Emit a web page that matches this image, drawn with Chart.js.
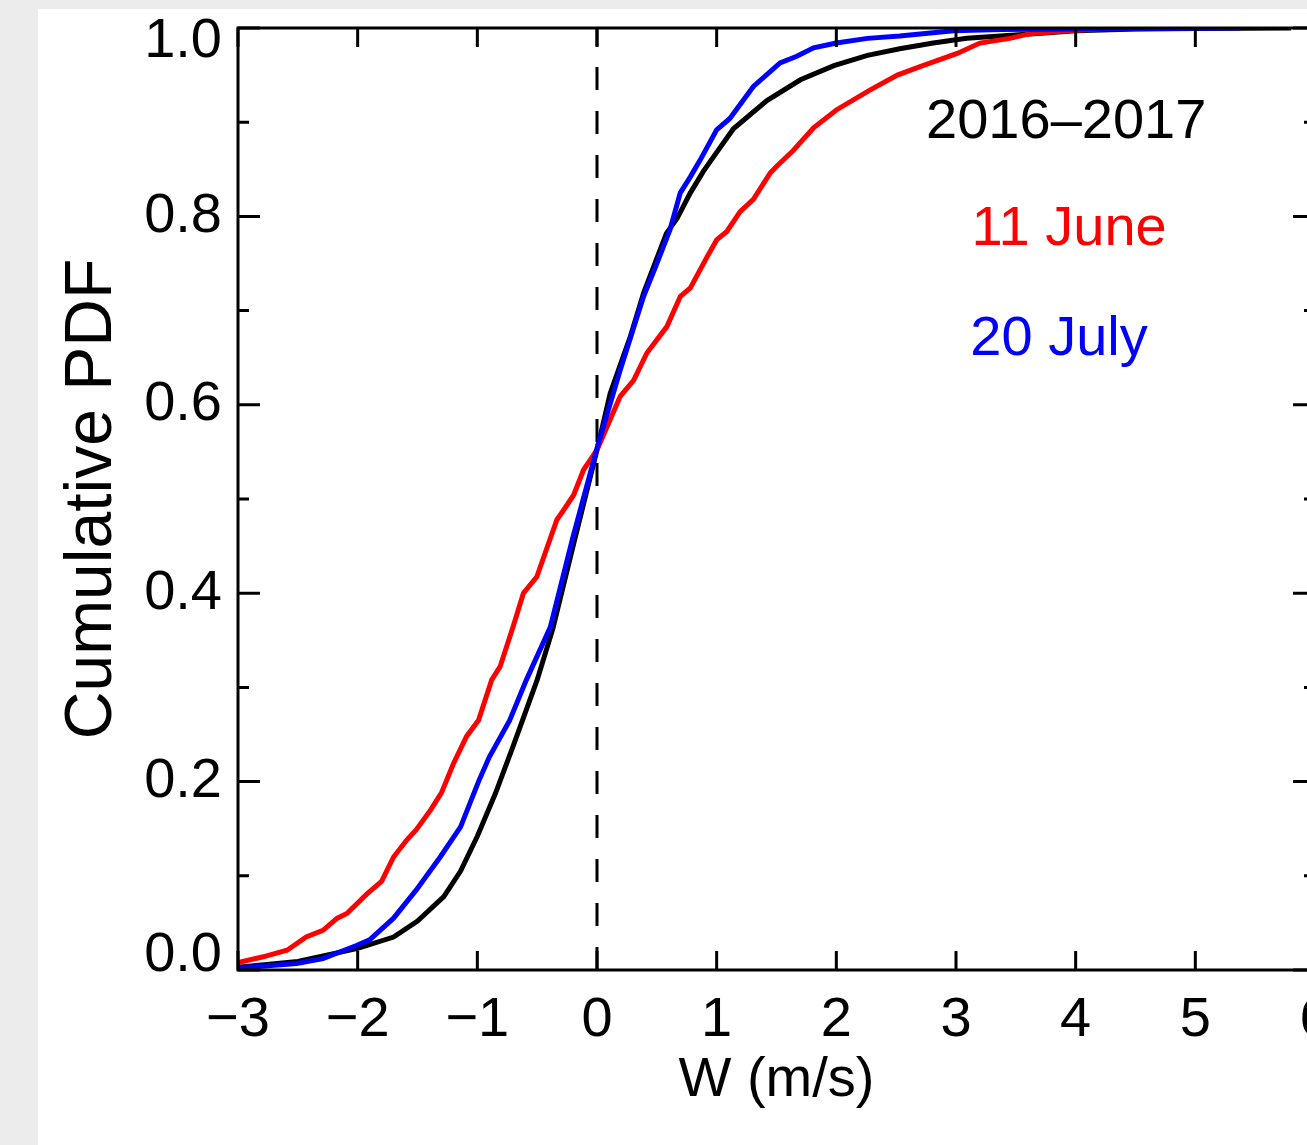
<!DOCTYPE html>
<html>
<head>
<meta charset="utf-8">
<script src="https://cdn.jsdelivr.net/npm/chart.js@4.4.0/dist/chart.umd.min.js"></script>
<style>
  html, body { margin: 0; padding: 0; width: 1307px; height: 1145px; overflow: hidden; background: #ececec; }
  #panel { position: absolute; left: 38px; top: 9px; width: 1330px; height: 1136px; background: #fff; }
  #panel canvas { position: absolute; left: 0; top: 0; }
</style>
</head>
<body>
<div id="panel"><canvas id="cdf" width="1320" height="1136"></canvas></div>
<script>
// cumulative PDF of vertical velocity W
const seriesNames = ['2016\u20132017', '11 June', '20 July'];

const xAll = [-3.0, -2.5, -2.0, -1.7, -1.5, -1.28, -1.14, -1.0, -0.85, -0.7, -0.5, -0.37, -0.2, 0.0,
  0.11, 0.28, 0.39, 0.58, 0.67, 0.78, 0.89, 1.0, 1.14, 1.42, 1.7, 1.98, 2.26, 2.53, 2.81, 3.09, 3.65,
  4.0, 4.5, 5.0, 5.8];
const yAll = [0.003, 0.009, 0.023, 0.035, 0.052, 0.078, 0.105, 0.142, 0.187, 0.238, 0.308, 0.362, 0.45, 0.552,
  0.612, 0.673, 0.719, 0.782, 0.798, 0.825, 0.848, 0.868, 0.893, 0.923, 0.945, 0.96, 0.971, 0.978, 0.984,
  0.989, 0.994, 0.997, 0.999, 0.9995, 1.0];

const xJune = [-3.0, -2.79, -2.59, -2.43, -2.29, -2.17, -2.09, -1.92, -1.8, -1.7, -1.59, -1.51, -1.39, -1.3,
  -1.2, -1.09, -0.99, -0.88, -0.81, -0.7, -0.615, -0.503, -0.335, -0.28, -0.196, -0.112, 0.0, 0.194, 0.306,
  0.417, 0.584, 0.696, 0.78, 0.92, 1.0, 1.085, 1.196, 1.307, 1.447, 1.5, 1.64, 1.81, 2.0, 2.28, 2.51, 2.7,
  3.01, 3.2, 3.45, 3.62, 3.93, 4.35];
const yJune = [0.008, 0.014, 0.021, 0.035, 0.042, 0.055, 0.06, 0.081, 0.094, 0.12, 0.138, 0.149, 0.17, 0.188,
  0.219, 0.248, 0.265, 0.308, 0.322, 0.365, 0.4, 0.4175, 0.478, 0.488, 0.504, 0.531, 0.552, 0.609, 0.626,
  0.655, 0.683, 0.715, 0.724, 0.757, 0.775, 0.784, 0.805, 0.818, 0.846, 0.853, 0.87, 0.894, 0.913, 0.934,
  0.95, 0.959, 0.973, 0.984, 0.989, 0.994, 0.997, 1.0];

const xJuly = [-3.0, -2.51, -2.29, -2.01, -1.9, -1.7, -1.51, -1.31, -1.14, -0.99, -0.9, -0.73, -0.59, -0.39,
  -0.2, 0.0, 0.194, 0.389, 0.5, 0.61, 0.696, 0.78, 0.863, 1.0, 1.11, 1.307, 1.53, 1.67, 1.81, 2.0, 2.26,
  2.53, 2.98, 3.37, 4.0, 5.38];
const yJuly = [0.002, 0.007, 0.012, 0.026, 0.032, 0.055, 0.085, 0.12, 0.152, 0.2, 0.226, 0.265, 0.308, 0.364,
  0.46, 0.554, 0.637, 0.715, 0.75, 0.786, 0.825, 0.842, 0.86, 0.892, 0.904, 0.938, 0.963, 0.97, 0.979, 0.984,
  0.989, 0.9915, 0.997, 0.9985, 0.999, 1.0];

const xTickLabels = ['\u22123', '\u22122', '\u22121', '0', '1', '2', '3', '4', '5', '6'];
const yTickLabels = ['0.0', '0.2', '0.4', '0.6', '0.8', '1.0'];

const FONT = '"Liberation Sans", Arial, Helvetica, sans-serif';

function pts(xs, ys) {
  return xs.map((v, i) => ({x: v, y: ys[i]}));
}

// IDL-style box: inward ticks on all four sides, dashed zero line, text legend
const idlBox = {
  id: 'idlBox',
  beforeDatasetsDraw(chart) {
    const {ctx, chartArea: a, scales: {x}} = chart;
    const x0 = x.getPixelForValue(0);
    ctx.save();
    ctx.strokeStyle = '#000';
    ctx.lineWidth = 3;
    ctx.setLineDash([23, 21]);
    ctx.beginPath();
    ctx.moveTo(x0, a.bottom);
    ctx.lineTo(x0, a.top);
    ctx.stroke();
    ctx.restore();
  },
  afterDatasetsDraw(chart) {
    const {ctx, chartArea: a, scales: {x, y}} = chart;
    ctx.save();
    ctx.strokeStyle = '#000';
    ctx.lineWidth = 3;
    ctx.strokeRect(a.left, a.top, a.right - a.left, a.bottom - a.top);
    ctx.beginPath();
    x.ticks.forEach(t => {
      const px = x.getPixelForValue(t.value);
      ctx.moveTo(px, a.bottom); ctx.lineTo(px, a.bottom - 19);
      ctx.moveTo(px, a.top); ctx.lineTo(px, a.top + 19);
    });
    for (let i = 0; i <= 10; i++) {
      const py = y.getPixelForValue(i / 10);
      const len = i % 2 === 0 ? 22 : 11;
      ctx.moveTo(a.left, py); ctx.lineTo(a.left + len, py);
      ctx.moveTo(a.right, py); ctx.lineTo(a.right - len, py);
    }
    ctx.stroke();

    // labels anchored in data coordinates (left edge, baseline)
    const anchors = [[2.75, 0.883], [3.13, 0.77], [3.12, 0.653]];
    ctx.font = '56px ' + FONT;
    ctx.textAlign = 'left';
    ctx.textBaseline = 'alphabetic';
    chart.data.datasets.forEach((ds, i) => {
      ctx.fillStyle = ds.borderColor;
      ctx.fillText(seriesNames[i], x.getPixelForValue(anchors[i][0]), y.getPixelForValue(anchors[i][1]));
    });
    ctx.restore();
  }
};

new Chart(document.getElementById('cdf'), {
  type: 'scatter',
  data: {
    datasets: [
      {label: seriesNames[0], data: pts(xAll, yAll), borderColor: '#000000', order: 3},
      {label: seriesNames[1], data: pts(xJune, yJune), borderColor: '#ff0000', order: 2},
      {label: seriesNames[2], data: pts(xJuly, yJuly), borderColor: '#0000ff', order: 1}
    ].map(d => Object.assign(d, {showLine: true, pointRadius: 0, borderWidth: 5, tension: 0, fill: false}))
  },
  options: {
    responsive: false,
    animation: false,
    layout: {padding: {left: 0, top: 19, right: 43, bottom: 0}},
    plugins: {legend: {display: false}, tooltip: {enabled: false}},
    scales: {
      x: {
        type: 'linear', min: -3, max: 6,
        grid: {display: false, drawTicks: false},
        border: {display: false},
        ticks: {
          stepSize: 1, autoSkip: false, maxRotation: 0, padding: 17, color: '#000',
          font: {family: FONT, size: 56},
          callback: (v, i) => xTickLabels[i]
        },
        title: {display: true, text: 'W (m/s)', color: '#000', font: {family: FONT, size: 56}, padding: {top: 0, bottom: 31}},
        afterFit: s => { s.height = 175; s.paddingLeft = 0; s.paddingRight = 0; }
      },
      y: {
        min: 0, max: 1,
        grid: {display: false, drawTicks: false},
        border: {display: false},
        ticks: {
          stepSize: 0.2, autoSkip: false, padding: 16, color: '#000',
          font: {family: FONT, size: 56, lineHeight: 0.5},
          // end labels sit a little inside the box, as in the original
          callback: (v, i) => i === 0 ? [yTickLabels[i], ''] : (i === yTickLabels.length - 1 ? ['', yTickLabels[i]] : yTickLabels[i])
        },
        title: {display: true, text: 'Cumulative PDF', color: '#000', font: {family: FONT, size: 66}, padding: {top: 15, bottom: 0}},
        afterFit: s => { s.width = 200; s.paddingTop = 0; s.paddingBottom = 0; }
      }
    }
  },
  plugins: [idlBox]
});
</script>
</body>
</html>
